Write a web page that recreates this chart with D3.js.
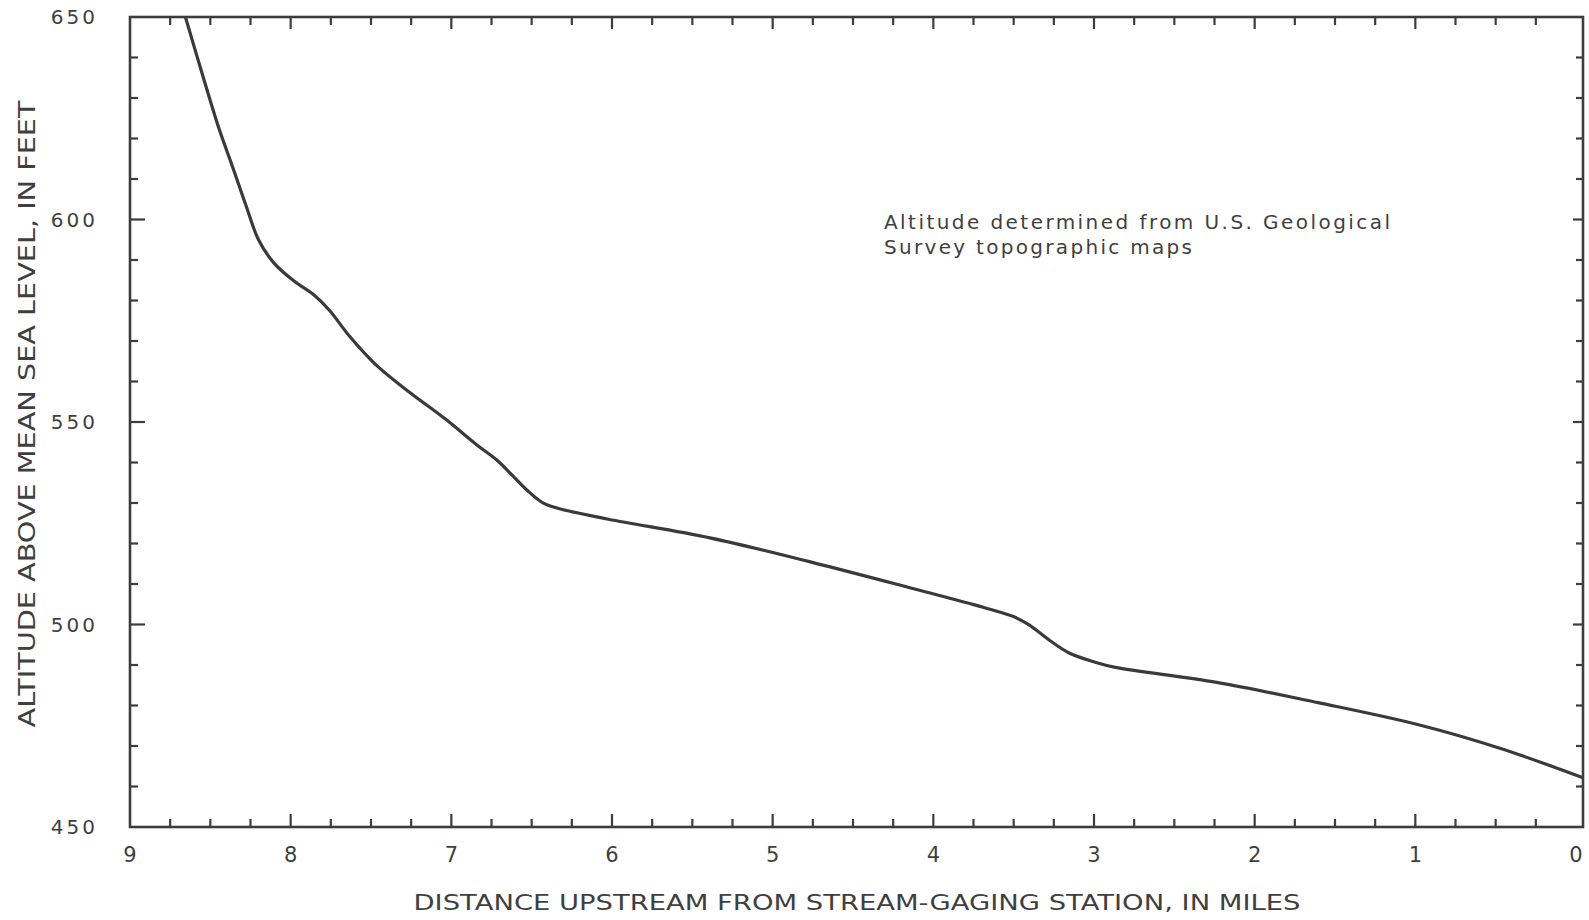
<!DOCTYPE html>
<html>
<head>
<meta charset="utf-8">
<script src="https://cdn.jsdelivr.net/npm/d3@7"></script>
<style>
  html, body { margin: 0; padding: 0; background: #ffffff; }
  svg { display: block; }
  text { font-family: "DejaVu Sans", sans-serif; fill: #3f3f3f; }
</style>
</head>
<body>
<svg id="chart" width="1589" height="920"></svg>
<script>
// ---- Data ----
const distanceMiles = [8.655, 8.547, 8.453, 8.358, 8.276, 8.200, 8.105, 7.979, 7.853, 7.759,
  7.632, 7.474, 7.285, 7.033, 6.843, 6.717, 6.622, 6.527, 6.433, 6.338,
  6.022, 5.391, 4.760, 4.129, 3.750, 3.498, 3.404, 3.277, 3.151, 2.993,
  2.867, 2.236, 1.605, 0.974, 0.469, -0.04];
const altitudeFeet = [650, 635.5, 623.3, 612.6, 603.2, 595.0, 589.3, 584.8, 581.3, 577.6,
  571.1, 564.3, 558.1, 550.6, 544.4, 540.6, 536.9, 533.1, 530.1, 528.7,
  526.0, 521.4, 515.4, 508.9, 504.9, 501.9, 499.9, 496.1, 492.9, 490.7,
  489.4, 485.7, 480.7, 475.2, 469.4, 462.2];
const xTickLabels = [9, 8, 7, 6, 5, 4, 3, 2, 1, 0];
const yTickLabels = [450, 500, 550, 600, 650];
const xTitle = "DISTANCE UPSTREAM FROM STREAM-GAGING STATION, IN MILES";
const yTitle = "ALTITUDE ABOVE MEAN SEA LEVEL, IN FEET";
const noteLines = ["Altitude determined from U.S. Geological", "Survey topographic maps"];

// ---- Layout ----
const plotLeft = 130, plotRight = 1583, plotTop = 17, plotBottom = 827;
const ink = "#3d3d3d";

const svg = d3.select("#chart");
const x = d3.scaleLinear().domain([9, 0]).range([plotLeft, 1576]);
const y = d3.scaleLinear().domain([450, 650]).range([plotBottom, plotTop]);

const data = distanceMiles.map((d, i) => ({ d, a: altitudeFeet[i] }));

// clip
svg.append("defs").append("clipPath").attr("id", "clip")
  .append("rect").attr("x", plotLeft).attr("y", plotTop)
  .attr("width", plotRight - plotLeft).attr("height", plotBottom - plotTop);

const xMinor = d3.range(0, 36).map(i => 9 - i * 0.25).filter(v => v > 0 && v < 9);
const yMinor = d3.range(460, 650, 10);

const isMajorX = v => Math.abs(v - Math.round(v)) < 1e-9;
const isMajorY = v => v % 50 === 0;

const ticks = svg.append("g").attr("stroke", ink).attr("stroke-width", 2.2);

ticks.selectAll(".tb").data(xMinor).join("line")
  .attr("x1", d => x(d)).attr("x2", d => x(d))
  .attr("y1", plotBottom).attr("y2", d => plotBottom - (isMajorX(d) ? 13 : 8));
ticks.selectAll(".tt").data(xMinor).join("line")
  .attr("x1", d => x(d)).attr("x2", d => x(d))
  .attr("y1", plotTop).attr("y2", d => plotTop + (isMajorX(d) ? 12 : 8));
ticks.selectAll(".tl").data(yMinor).join("line")
  .attr("x1", plotLeft).attr("x2", d => plotLeft + (isMajorY(d) ? 15 : 8))
  .attr("y1", d => y(d)).attr("y2", d => y(d));
ticks.selectAll(".tr").data(yMinor).join("line")
  .attr("x1", plotRight).attr("x2", d => plotRight - (isMajorY(d) ? 10 : 7))
  .attr("y1", d => y(d)).attr("y2", d => y(d));

// frame
svg.append("rect")
  .attr("x", plotLeft).attr("y", plotTop)
  .attr("width", plotRight - plotLeft).attr("height", plotBottom - plotTop)
  .attr("fill", "none").attr("stroke", ink).attr("stroke-width", 2.6);

// curve
const line = d3.line().x(p => x(p.d)).y(p => y(p.a)).curve(d3.curveCatmullRom.alpha(0.5));
svg.append("path").datum(data)
  .attr("clip-path", "url(#clip)")
  .attr("d", line)
  .attr("fill", "none").attr("stroke", "#3a3a3a").attr("stroke-width", 3.2)
  .attr("stroke-linejoin", "round");

// y tick labels
svg.append("g").selectAll("text").data(yTickLabels).join("text")
  .attr("x", 98).attr("y", d => y(d))
  .attr("text-anchor", "end").attr("dominant-baseline", "central")
  .attr("font-size", 20).attr("letter-spacing", 3)
  .text(d => d);

// x tick labels
svg.append("g").selectAll("text").data(xTickLabels).join("text")
  .attr("x", d => x(d)).attr("y", 855)
  .attr("text-anchor", "middle").attr("dominant-baseline", "central")
  .attr("font-size", 21)
  .text(d => d);

// axis titles
svg.append("text")
  .attr("x", 857).attr("y", 902)
  .attr("text-anchor", "middle").attr("dominant-baseline", "central")
  .attr("font-size", 22)
  .attr("textLength", 887).attr("lengthAdjust", "spacingAndGlyphs")
  .text(xTitle);

svg.append("text")
  .attr("transform", "translate(27,414) rotate(-90)")
  .attr("text-anchor", "middle").attr("dominant-baseline", "central")
  .attr("font-size", 23)
  .attr("textLength", 627).attr("lengthAdjust", "spacingAndGlyphs")
  .text(yTitle);

// annotation
const note = svg.append("g");
note.append("text").attr("x", 884).attr("y", 229)
  .attr("font-size", 20).attr("textLength", 506).attr("lengthAdjust", "spacing")
  .text(noteLines[0]);
note.append("text").attr("x", 884).attr("y", 254)
  .attr("font-size", 20).attr("textLength", 308).attr("lengthAdjust", "spacing")
  .text(noteLines[1]);
</script>
</body>
</html>
